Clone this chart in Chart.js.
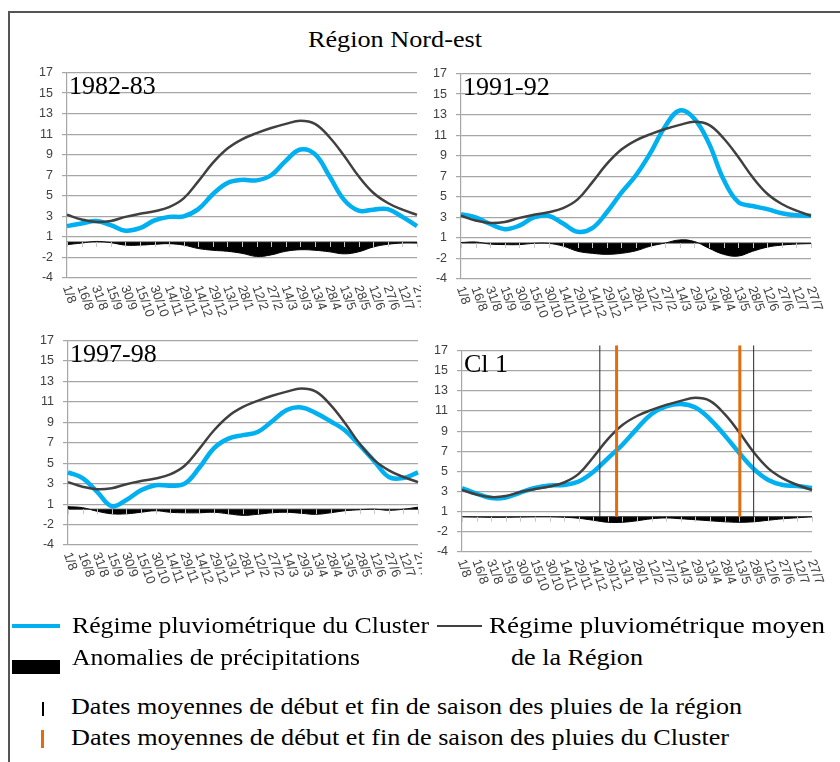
<!DOCTYPE html>
<html lang="fr">
<head>
  <meta charset="UTF-8" />
  <title>Région Nord-est</title>
  <script src="https://cdn.jsdelivr.net/npm/chart.js"></script>
  <style>
    html, body { margin: 0; padding: 0; background: #fff; overflow: hidden; }
    body { width: 840px; height: 762px; position: relative; }
    #frame { position: absolute; left: 8px; top: 11px; width: 850px; height: 770px; border: 2px solid #555; }
    canvas { position: absolute; }
    .txt { position: absolute; font-family: "Liberation Serif", "Times New Roman", serif; font-size: 24px;
           line-height: 24px; white-space: nowrap; color: #000; transform-origin: 0 0; }
    .title { font-size: 23px; line-height: 23px; }
    .swatch { position: absolute; }
  </style>
</head>
<body>
  <div id="frame"></div>
  <div class="txt title" data-w="174" style="left:308px; top:28px;">Région Nord-est</div>

  <canvas id="p1982"></canvas>
  <canvas id="p1991"></canvas>
  <canvas id="p1997"></canvas>
  <canvas id="pcl1"></canvas>

  <!-- legend -->
  <div class="swatch" style="left:12px; top:624px; width:48px; height:4px; background:#00b0f0;"></div>
  <div class="txt" data-w="357" style="left:72px; top:613px;">Régime pluviométrique du Cluster</div>
  <div class="swatch" style="left:437px; top:625px; width:45px; height:2px; background:#404040;"></div>
  <div class="txt" data-w="336" style="left:489px; top:613px;">Régime pluviométrique moyen</div>
  <div class="swatch" style="left:12px; top:660px; width:48px; height:14px; background:#000;"></div>
  <div class="txt" data-w="288" style="left:72px; top:645px;">Anomalies de précipitations</div>
  <div class="txt" data-w="132" style="left:511px; top:645px;">de la Région</div>
  <div class="swatch" style="left:42px; top:702px; width:1.5px; height:14px; background:#000;"></div>
  <div class="txt" data-w="671" style="left:71px; top:694px;">Dates moyennes de début et fin de saison des pluies de la région</div>
  <div class="swatch" style="left:41px; top:730px; width:3px; height:18px; background:#e46c0a;"></div>
  <div class="txt" data-w="658" style="left:71px; top:725px;">Dates moyennes de début et fin de saison des pluies du Cluster</div>

  <script>
    // Pentads of the rainy year (day/month)
    const xLabels = ['1/8', '16/8', '31/8', '15/9', '30/9', '15/10', '30/10', '14/11', '29/11', '14/12',
      '29/12', '13/1', '28/1', '12/2', '27/2', '14/3', '29/3', '13/4', '28/4', '13/5', '28/5', '12/6',
      '27/6', '12/7', '27/7'];

    // Axis runs -4..16 in steps of 2, printed with these labels
    const yTickLabels = ['-4', '-2', '1', '3', '5', '7', '9', '11', '13', '15', '17'];

    // Mean rainfall regime of the region (same in every panel)
    const regionMean = [2.15, 1.7, 1.45, 1.55, 1.95, 2.25, 2.5, 2.9, 3.75, 5.4, 7.2, 8.6, 9.5, 10.1,
      10.6, 11.0, 11.3, 11.0, 9.7, 7.9, 5.9, 4.3, 3.3, 2.65, 2.15];

    // Cluster regimes
    const cluster1982 = [1.05, 1.3, 1.55, 1.15, 0.6, 0.85, 1.6, 1.95, 2.0, 2.7, 4.15, 5.25, 5.55, 5.5,
      6.0, 7.4, 8.5, 8.05, 5.9, 3.6, 2.55, 2.65, 2.7, 1.95, 1.05];
    const cluster1991 = [2.3, 2.0, 1.35, 0.85, 1.2, 2.0, 2.15, 1.4, 0.6, 0.95, 2.5, 4.4, 6.1, 8.3,
      10.85, 12.4, 11.6, 9.2, 5.7, 3.5, 3.1, 2.8, 2.4, 2.2, 2.15];
    const cluster1997 = [3.1, 2.55, 1.2, -0.2, 0.4, 1.35, 1.85, 1.8, 2.0, 3.55, 5.45, 6.4, 6.75, 7.05,
      8.1, 9.2, 9.45, 8.9, 8.1, 7.2, 5.75, 4.2, 2.65, 2.55, 3.1];
    const clusterCl1 = [2.35, 1.8, 1.35, 1.4, 1.9, 2.35, 2.6, 2.65, 3.0, 3.95, 5.3, 6.65, 8.25, 9.7,
      10.45, 10.7, 10.35, 9.2, 7.6, 5.85, 4.25, 3.15, 2.65, 2.55, 2.35];

    // Precipitation anomalies, measured from their own zero line
    const anomalyBase = -0.5;
    const anom1982 = [-0.25, -0.1, 0.06, -0.06, -0.3, -0.3, -0.22, -0.16, -0.3, -0.63, -0.8, -0.9,
      -1.1, -1.4, -1.25, -0.9, -0.75, -0.8, -0.95, -1.15, -0.95, -0.48, -0.22, -0.1, -0.1];
    const anom1991 = [0.05, 0.1, -0.1, -0.15, -0.15, -0.03, -0.03, -0.3, -0.8, -1.0, -1.1, -1.0,
      -0.75, -0.3, 0, 0.3, 0.15, -0.5, -1.1, -1.27, -0.8, -0.4, -0.2, -0.1, -0.05];
    const anom1997 = [0.25, 0.15, -0.2, -0.45, -0.45, -0.3, -0.15, -0.3, -0.35, -0.35, -0.3, -0.45,
      -0.6, -0.5, -0.35, -0.3, -0.4, -0.5, -0.35, -0.15, -0.05, 0, -0.1, 0, 0.2];
    const anomCl1 = [0, -0.03, -0.05, -0.05, -0.03, 0, 0, -0.05, -0.15, -0.35, -0.55, -0.55, -0.4,
      -0.2, -0.12, -0.2, -0.3, -0.4, -0.5, -0.55, -0.5, -0.35, -0.2, -0.1, 0];

    // Mean onset / end of the rainy season (position along the pentad axis)
    const regionSeason = [9.45, 20.0];
    const clusterSeason = [10.6, 19.05];

    const BLUE = '#00b0f0';
    const DARK = '#404040';
    const ORANGE = '#e46c0a';
    const GRID = '#a6a6a6';

    // stretch the serif captions to their set widths
    document.querySelectorAll('.txt[data-w]').forEach(el => {
      const w = el.getBoundingClientRect().width;
      el.style.transform = 'scaleX(' + (Number(el.dataset.w) / w) + ')';
    });

    // zero line of the anomalies, season markers, rotated dates and panel name
    const panelDecor = {
      id: 'panelDecor',
      afterDatasetsDraw(chart, args, opts) {
        const { ctx, chartArea } = chart;
        const x = chart.scales.x, y = chart.scales.y;
        const y0 = y.getPixelForValue(anomalyBase);
        ctx.save();
        ctx.strokeStyle = '#262626';
        ctx.lineWidth = 1;
        ctx.beginPath();
        ctx.moveTo(chartArea.left, y0);
        ctx.lineTo(chartArea.right, y0);
        ctx.stroke();
        ctx.strokeStyle = '#c8c8c8';
        xLabels.forEach((_, i) => {
          const px = Math.round(x.getPixelForValue(i)) + 0.5;
          ctx.beginPath();
          ctx.moveTo(px, y0);
          ctx.lineTo(px, y0 + 5);
          ctx.stroke();
        });
        (opts.seasons || []).forEach(s => {
          ctx.strokeStyle = s.color;
          ctx.lineWidth = s.width;
          s.at.forEach(v => {
            const px = x.getPixelForValue(v);
            ctx.beginPath();
            ctx.moveTo(px, y.getPixelForValue(16.5));
            ctx.lineTo(px, y0);
            ctx.stroke();
          });
        });
        ctx.restore();
      },
      afterDraw(chart, args, opts) {
        const { ctx, chartArea } = chart;
        const x = chart.scales.x;
        ctx.save();
        ctx.fillStyle = DARK;
        ctx.font = '13px "Liberation Sans"';
        ctx.textAlign = 'left';
        ctx.textBaseline = 'middle';
        xLabels.forEach((lab, i) => {
          ctx.save();
          ctx.translate(x.getPixelForValue(i) - 1, chartArea.bottom + 8);
          ctx.rotate(70 * Math.PI / 180);
          ctx.fillText(lab, 0, 0);
          ctx.restore();
        });
        ctx.fillStyle = '#000';
        ctx.font = '26px "Liberation Serif"';
        ctx.textBaseline = 'alphabetic';
        ctx.fillText(opts.label, chartArea.left + 2, chartArea.top + 21);
        ctx.restore();
      }
    };

    function makePanel(id, area, label, cluster, anomalies, seasons) {
      const canvas = document.getElementById(id);
      canvas.width = area.w + 60 + area.pad;
      canvas.height = area.h + 70;
      canvas.style.left = (area.left - 60) + 'px';
      canvas.style.top = (area.top - 10) + 'px';

      return new Chart(canvas, {
        type: 'line',
        data: {
          labels: xLabels,
          datasets: [
            {
              label: 'Régime pluviométrique moyen de la Région',
              data: regionMean,
              borderColor: DARK,
              borderWidth: 2.5,
              pointRadius: 0,
              tension: 0.4,
              fill: false
            },
            {
              label: 'Régime pluviométrique du Cluster',
              data: cluster,
              borderColor: BLUE,
              borderWidth: 4.5,
              pointRadius: 0,
              tension: 0.4,
              fill: false
            },
            {
              label: 'Anomalies de précipitations',
              data: anomalies.map(a => anomalyBase + a),
              borderColor: '#000',
              backgroundColor: '#000',
              borderWidth: 1,
              pointRadius: 0,
              tension: 0.4,
              fill: { value: anomalyBase }
            }
          ]
        },
        options: {
          responsive: false,
          animation: false,
          layout: { padding: { top: 10, right: area.pad, left: 0, bottom: 0 } },
          plugins: {
            legend: { display: false },
            tooltip: { enabled: false },
            panelDecor: { label: label, seasons: seasons }
          },
          scales: {
            x: {
              offset: false,
              afterFit: s => { s.height = 60; },
              ticks: { display: false },
              grid: { display: false },
              border: { display: false }
            },
            y: {
              min: -4,
              max: 16,
              afterFit: s => { s.width = 60; },
              ticks: {
                stepSize: 2,
                padding: 9,
                color: DARK,
                font: { family: 'Liberation Sans', size: 12.5 },
                callback: (v, i) => yTickLabels[i]
              },
              grid: { color: GRID, lineWidth: 1.2, tickLength: 5 },
              border: { color: GRID, width: 1.2 }
            }
          }
        },
        plugins: [panelDecor]
      });
    }

    // left panels are cut at the middle of the page, right ones keep their last date
    makePanel('p1982', { left: 67, top: 66, w: 350, h: 212, pad: 4 }, '1982-83', cluster1982, anom1982, []);
    makePanel('p1991', { left: 461, top: 67, w: 350, h: 212, pad: 25 }, '1991-92', cluster1991, anom1991, []);
    makePanel('p1997', { left: 68, top: 334, w: 350, h: 211, pad: 4 }, '1997-98', cluster1997, anom1997, []);
    makePanel('pcl1', { left: 462, top: 344, w: 350, h: 208, pad: 25 }, 'Cl 1', clusterCl1, anomCl1, [
      { at: regionSeason, color: '#262626', width: 1 },
      { at: clusterSeason, color: ORANGE, width: 3 }
    ]);
  </script>
</body>
</html>
